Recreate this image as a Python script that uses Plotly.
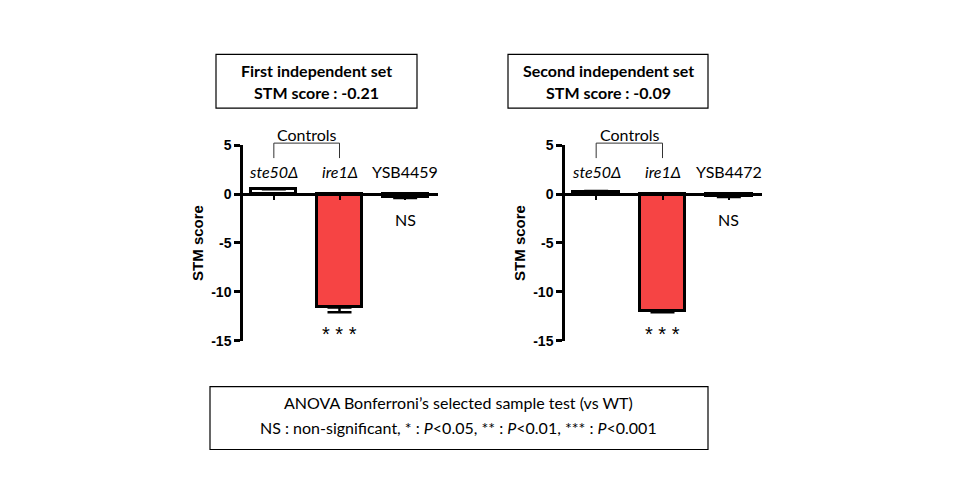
import plotly.graph_objects as go

# ---- data ----
categories = ["ste50Δ", "ire1Δ", "YSB4459"]
categories2 = ["ste50Δ", "ire1Δ", "YSB4472"]
italic_cat = [True, True, False]
set1_values = [0.5, -11.6, -0.3]
set1_errors = [0.1, 0.5, 0.1]
set2_values = [0.2, -12.0, -0.2]
set2_errors = [0.1, 0.1, 0.1]
signif1 = ["", "* * *", "NS"]
signif2 = ["", "* * *", "NS"]
bar_colors = ["white", "#F64444", "black"]
titles = [("First independent set", "STM score : -0.21"),
          ("Second independent set", "STM score : -0.09")]
footnote = ["ANOVA Bonferroni’s selected sample test (vs WT)",
            "NS : non-significant, * : <i>P</i>&lt;0.05, ** : <i>P</i>&lt;0.01, *** : <i>P</i>&lt;0.001"]
yticks = [-15, -10, -5, 0, 5]

TXT = "Lato"
NUM = "Liberation Sans"

# target-pixel -> paper coordinates (vertical correction for the capture)
def px_x(x):
    return x / 960

def px_y(y):
    return 1 - ((y - 7.6) / 0.97) / 500

fig = go.Figure()

sets = [(set1_values, set1_errors, categories, signif1, "x", "y"),
        (set2_values, set2_errors, categories2, signif2, "x2", "y2")]

for vals, errs, cats, sig, xa, ya in sets:
    xs = list(range(len(vals)))
    fig.add_trace(go.Bar(
        x=xs, y=vals, width=0.69,
        marker=dict(color=bar_colors, line=dict(color="black", width=3)),
        error_y=dict(type="data", symmetric=False,
                     array=[e if v > 0 else 0 for v, e in zip(vals, errs)],
                     arrayminus=[e if v < 0 else 0 for v, e in zip(vals, errs)],
                     color="black", thickness=2.5, width=12),
        xaxis=xa, yaxis=ya, showlegend=False, hoverinfo="skip"))

axis_common = dict(range=[-0.5, 2.5], showgrid=False, zeroline=False,
                   showline=True, linecolor="black", linewidth=2.5,
                   ticks="outside", ticklen=4, tickwidth=2, tickcolor="black",
                   tickvals=[0, 1, 2], showticklabels=False, anchor="free",
                   position=px_y(194))
yaxis_common = dict(range=[-15, 5], showgrid=False, zeroline=False,
                    showline=True, linecolor="black", linewidth=2.5,
                    ticks="outside", ticklen=6, tickwidth=2.5, tickcolor="black",
                    tickvals=yticks, ticktext=[str(t) for t in yticks],
                    tickfont=dict(family=NUM, size=14, color="black", weight="bold"),
                    domain=[px_y(341), px_y(145)])

fig.update_layout(
    width=960, height=500, margin=dict(l=0, r=0, t=0, b=0),
    paper_bgcolor="white", plot_bgcolor="white", bargap=0,
    xaxis=dict(axis_common, domain=[px_x(241), px_x(438)]),
    xaxis2=dict(axis_common, domain=[px_x(563), px_x(762)]),
    yaxis=dict(yaxis_common, anchor="free", position=px_x(241)),
    yaxis2=dict(yaxis_common, anchor="free", position=px_x(563)),
)

annotations = []
shapes = []

def ann(**kw):
    kw.setdefault("showarrow", False)
    kw.setdefault("xanchor", "center")
    kw.setdefault("yanchor", "middle")
    annotations.append(kw)

for idx, (vals, errs, cats, sig, xa, ya) in enumerate(sets):
    for i, c in enumerate(cats):
        label = f"<i>{c}</i>" if italic_cat[i] else c
        ann(x=i, y=2.3, xref=xa, yref=ya, text=label,
            font=dict(family=TXT, size=16, color="black"))
        if sig[i]:
            if vals[i] < -1:
                ann(x=i, y=vals[i] - errs[i] - 2.2, xref=xa, yref=ya, text=sig[i],
                    font=dict(family=NUM, size=20, color="black"))
            else:
                ann(x=i, y=-2.65, xref=xa, yref=ya, text=sig[i],
                    font=dict(family=TXT, size=16, color="black"))
    # Controls bracket
    shapes.append(dict(type="path", xref=xa, yref="paper",
                       path=f"M 0,{px_y(158)} L 0,{px_y(143)} L 1,{px_y(143)} L 1,{px_y(158)}",
                       line=dict(color="#333333", width=1)))
    ann(x=0.5, y=px_y(134), xref=xa, yref="paper", text="Controls",
        font=dict(family=TXT, size=16, color="black"))

# y-axis titles
for xp in [198, 520]:
    ann(x=px_x(xp), y=px_y(243), xref="paper", yref="paper",
        text="<b>STM score</b>", textangle=-90,
        font=dict(family=NUM, size=15, color="black"))

# title boxes
for (x0, x1), (l1, l2) in zip([(216, 417), (508, 708)], titles):
    shapes.append(dict(type="rect", xref="paper", yref="paper",
                       x0=px_x(x0), x1=px_x(x1), y0=px_y(108), y1=px_y(54),
                       line=dict(color="black", width=1.2), fillcolor="rgba(0,0,0,0)"))
    for yy, t in zip([70, 92], [l1, l2]):
        ann(x=px_x((x0 + x1) / 2), y=px_y(yy), xref="paper", yref="paper",
            text=f"<b>{t}</b>", font=dict(family=TXT, size=16, color="black"))

# bottom box
shapes.append(dict(type="rect", xref="paper", yref="paper",
                   x0=px_x(210), x1=px_x(708), y0=px_y(450), y1=px_y(387),
                   line=dict(color="black", width=1.2), fillcolor="rgba(0,0,0,0)"))
for yy, t in zip([403, 428], footnote):
    ann(x=px_x(458), y=px_y(yy), xref="paper", yref="paper", text=t,
        font=dict(family=TXT, size=16, color="black"))

fig.update_layout(annotations=annotations, shapes=shapes)
fig.write_html("out.html", config={"displayModeBar": False},
               post_script="document.body.style.margin='0';")
